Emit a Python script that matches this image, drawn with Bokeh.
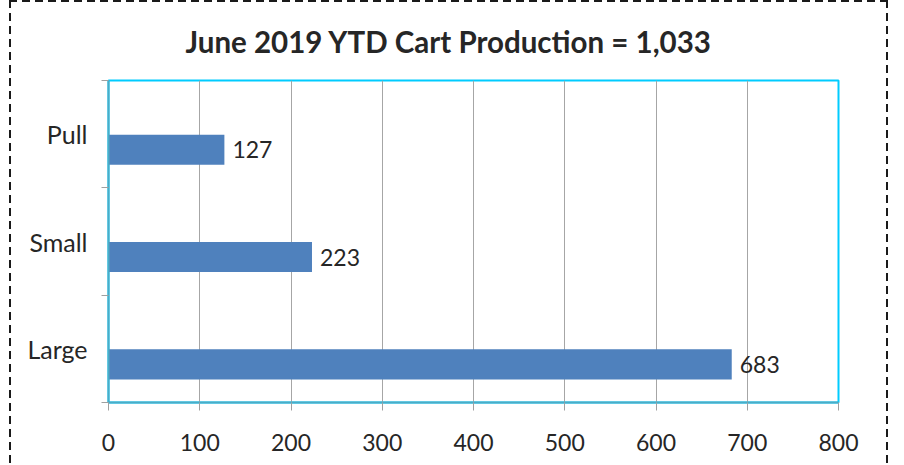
from bokeh.plotting import figure
from bokeh.models import ColumnDataSource, FixedTicker, Range1d, LabelSet
from bokeh.core.properties import value
from bokeh.embed import file_html
from bokeh.resources import INLINE

title_text = "June 2019 YTD Cart Production = 1,033"
categories = ["Large", "Small", "Pull"]
values = [683, 223, 127]
x_ticks = [0, 100, 200, 300, 400, 500, 600, 700, 800]

FONT = "Lato"
TXT = "#262626"

cat_pos = [i + 0.5 for i in range(len(categories))]
bar_pos = [c - 0.145 for c in cat_pos]

src = ColumnDataSource(dict(cat=categories, val=values, y=bar_pos,
                            lbl=[str(v) for v in values]))

dash_h = "repeating-linear-gradient(90deg, #1a1a1a 0px, #1a1a1a 8px, transparent 8px, transparent 13px)"
dash_v = "repeating-linear-gradient(180deg, #1a1a1a 0px, #1a1a1a 8px, transparent 8px, transparent 13px)"

p = figure(width=879, height=465, output_backend="svg", toolbar_location=None,
           x_range=Range1d(0, 800), y_range=Range1d(0, 3),
           min_border_left=99, min_border_right=50, min_border_top=79,
           min_border_bottom=63,
           margin=(0, 0, 0, 9),
           border_fill_color=None, background_fill_color="white",
           styles={"background-image": f"{dash_h}, {dash_v}, {dash_v}",
                   "background-size": "100% 2px, 2px 100%, 2px 100%",
                   "background-position": "0 0, 0 0, 100% 0",
                   "background-repeat": "no-repeat"})

p.title.text = title_text
p.title.align = "left"
p.title.offset = 77
p.title.standoff = 43
p.title.text_font = FONT
p.title.text_font_size = "29.5px"
p.title.text_font_style = "bold"
p.title.text_color = TXT

p.hbar(y="y", right="val", left=0, height=0.28, source=src,
       fill_color="#4F81BD", line_color=None)

labels = LabelSet(x="val", y="y", text="lbl", source=src, x_offset=8,
                  text_align="left", text_baseline="middle",
                  text_font=value(FONT), text_font_size=value("23px"),
                  text_color=TXT)
p.add_layout(labels)

p.outline_line_color = "#00CCFF"
p.outline_line_width = 2

# x axis
p.xaxis.ticker = FixedTicker(ticks=x_ticks)
p.xaxis.axis_line_color = "#4BACC6"
p.xaxis.axis_line_width = 2
p.xaxis.major_tick_line_color = "#A0A0A0"
p.xaxis.major_tick_out = 8
p.xaxis.major_tick_in = 0
p.xaxis.minor_tick_line_color = None
p.xaxis.major_label_text_font = FONT
p.xaxis.major_label_text_font_size = "23px"
p.xaxis.major_label_text_color = TXT
p.xaxis.major_label_standoff = 23

# y axis
p.yaxis.ticker = FixedTicker(ticks=cat_pos, minor_ticks=[0, 1, 2, 3])
p.yaxis.major_label_overrides = {c: n for c, n in zip(cat_pos, categories)}
p.yaxis.axis_line_color = "#4BACC6"
p.yaxis.axis_line_width = 2
p.yaxis.major_tick_line_color = None
p.yaxis.major_tick_out = 0
p.yaxis.major_tick_in = 0
p.yaxis.minor_tick_line_color = "#A0A0A0"
p.yaxis.minor_tick_out = 7
p.yaxis.minor_tick_in = 0
p.yaxis.major_label_text_font = FONT
p.yaxis.major_label_text_font_size = "25px"
p.yaxis.major_label_text_color = TXT
p.yaxis.major_label_standoff = 14

p.xgrid.ticker = FixedTicker(ticks=x_ticks)
p.xgrid.grid_line_color = "#A6A6A6"
p.ygrid.grid_line_color = None

open("out.html", "w").write(file_html(p, INLINE))
